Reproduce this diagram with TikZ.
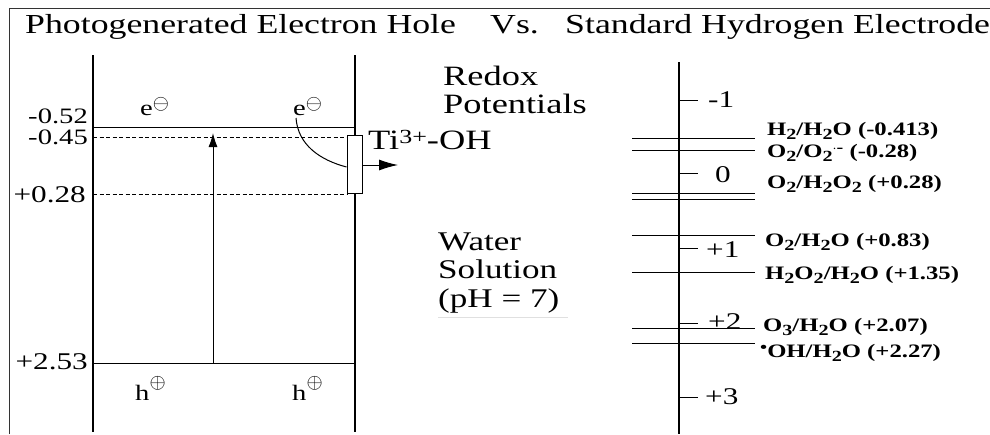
\documentclass[tikz,border=0pt]{standalone}
\usepackage{fontspec}
\setmainfont[FakeStretch=1.3]{Liberation Serif}
\usetikzlibrary{arrows.meta,positioning}

\newcommand\fsz[1]{\fontsize{#1pt}{#1pt}\selectfont}
\newcommand\sbs[1]{\raisebox{-4pt}{\fsz{15.5}#1}}
\newcommand\sps[1]{\raisebox{5pt}{\fsz{15.5}#1}}

\tikzset{
  band/.style={line width=1pt},
  bandgap/.style={line width=0.8pt, dash pattern=on 4pt off 2.5pt},
  wall/.style={line width=1.4pt},
  txt/.style={anchor=base west, inner sep=0pt, font={\fsz{#1}}},
  txt/.default=27.5,
  lvl/.style={anchor=base east, inner sep=0pt, font={\fsz{#1}}},
  lvl/.default=24,
  tick/.style={anchor=west, inner sep=0pt, font={\fsz{24}}},
  couple/.style={anchor=base west, inner sep=0pt, font={\bfseries\fsz{19}}}
}

\begin{document}
\begin{tikzpicture}[x=1pt,y=-1pt]
    \useasboundingbox (0,0) rectangle (990,434);
    \draw[line width=1pt, black!80] (9,434) -- (9,8) -- (990,8);

    % title
    \node[txt] (ttl) at (25,33) {Photogenerated Electron Hole};
    \node[txt] (vs) at (490,33) {Vs.};
    \node[txt] (she) at (565,33) {Standard Hydrogen Electrode};

    % TiO2 band scheme
    \draw[wall] (93,55) -- (93,432);
    \draw[wall] (355,55) -- (355,432);
    \draw[band] (93,127) -- (355,127);
    \draw[bandgap] (93,137) -- (348,137);
    \draw[bandgap] (93,194) -- (348,194);
    \draw[band] (93,363) -- (355,363);

    \node[lvl=22] (cb1) at (88,123) {-0.52};
    \node[lvl=22] (cb2) at (88,144) {-0.45};
    \node[lvl] (trp) at (86,202) {+0.28};
    \node[lvl] (vb) at (88,369) {+2.53};

    \coordinate (vbtop) at (213,363);
    \coordinate (cbbot) at (213,133);
    \draw[band, -{Latex[length=14pt,width=9pt]}] (vbtop) -- (cbbot);

    \node[txt=22] (el1) at (140,115) {e\raisebox{5.5pt}{$\ominus$}};
    \node[txt=22] (el2) at (293,115) {e\raisebox{5.5pt}{$\ominus$}};
    \node[txt=22] (ho1) at (135,400) {h\raisebox{11.5pt}{$\oplus$}};
    \node[txt=22] (ho2) at (292,400) {h\raisebox{11.5pt}{$\oplus$}};

    \node[draw, band, fill=white, minimum width=15pt, minimum height=58pt,
      inner sep=0pt] (trap) at (354.5,164) {};
    \coordinate (eout) at (296,118);
    \draw[band] (eout) .. controls (298,145) and (320,160) .. (trap.west |- 0,167);
    \coordinate (tiout) at (398,165);
    \draw[band, -{Latex[length=19pt,width=11pt]}] (trap.east |- tiout) -- (tiout);
    \node[txt=28] (ti) at (368,149) {Ti\raisebox{6pt}{\fsz{20}3+}-OH};

    % middle
    \node[txt=28] (rdx) at (443,85) {Redox};
    \node[txt=28] (pot) at (443,113) {Potentials};
    \node[txt=27] (wat) at (438,250) {Water};
    \node[txt=27] (sol) at (438,278) {Solution};
    \node[txt=27] (ph) at (438,307) {(pH = 7)};
    \draw[line width=0.8pt, black!12] (438,317) -- (568,317);

    % NHE scale
    \draw[wall] (679,62) -- (679,434);
    \foreach \y in {100,173,248,323,397}
      \draw[band] (679,\y) -- (698,\y);
    \node[tick] (m1) at (708,100) {-1};
    \node[tick] (z0) at (715,175) {0};
    \node[tick] (p1) at (706,250) {+1};
    \node[tick] (p2) at (708,322) {+2};
    \node[tick] (p3) at (705,397) {+3};

    \foreach \y in {138,150,193,199,235,272,328,343}
      \draw[band] (632,\y) -- (755,\y);

    \node[couple] (hh) at (767,135) {H\sbs{2}/H\sbs{2}O (-0.413)};
    \node[couple] (oo) at (767,157) {O\sbs{2}/O\sbs{2}\sps{$\cdot$-} (-0.28)};
    \node[couple] (ohp) at (767,188) {O\sbs{2}/H\sbs{2}O\sbs{2} (+0.28)};
    \node[couple] (ow) at (765,246) {O\sbs{2}/H\sbs{2}O (+0.83)};
    \node[couple] (hpw) at (765,279) {H\sbs{2}O\sbs{2}/H\sbs{2}O (+1.35)};
    \node[couple] (oz) at (763,331) {O\sbs{3}/H\sbs{2}O (+2.07)};
    \node[couple] (oh) at (760,357) {\sps{\textbullet}OH/H\sbs{2}O (+2.27)};
\end{tikzpicture}
\end{document}
